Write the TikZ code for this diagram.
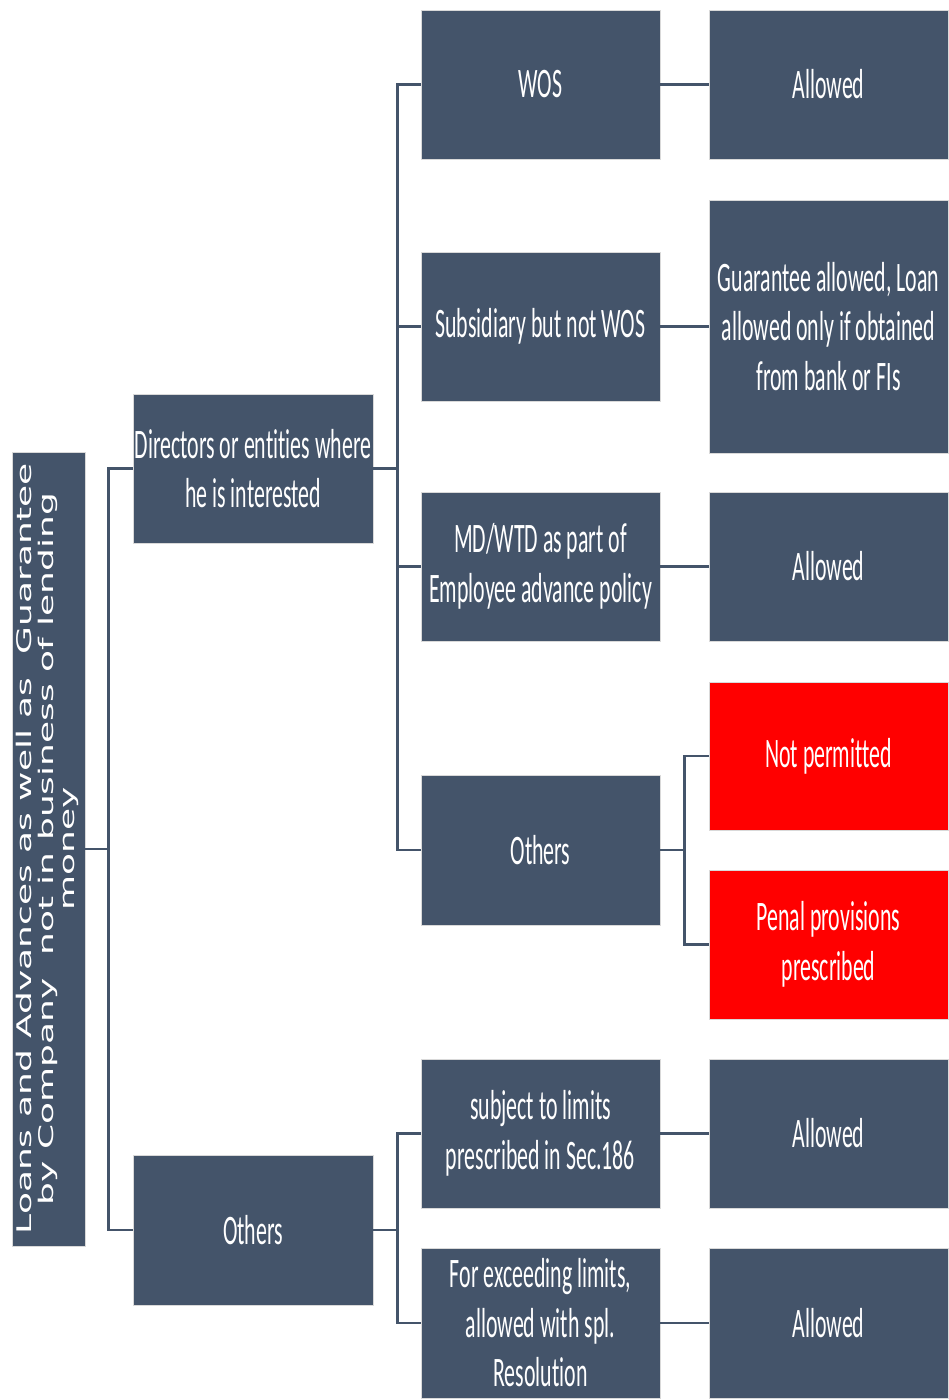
\documentclass[tikz,border=0pt]{standalone}
\usepackage{fontspec}
\usepackage{graphicx}
\newfontfamily\boxfont[FakeStretch=0.52,Ligatures=NoCommon]{Carlito}
\newfontfamily\rootfont{DejaVu Sans}
\definecolor{slate}{HTML}{44546A}
\definecolor{alert}{HTML}{FF0000}
\definecolor{rim}{HTML}{D9D9D9}
\begin{document}
\begin{tikzpicture}[x=1pt,y=-1pt,
  card/.style={rectangle,fill=slate,draw=rim,line width=0.8pt,text=white,
    inner sep=0pt,align=center,minimum width=239pt,
    font=\boxfont\fontsize{42}{49.5}\selectfont},
  redcard/.style={card,fill=alert},
  link/.style={draw=slate,line width=2.2pt}]
\useasboundingbox (0,0) rectangle (948,1400);
\fill[white] (0,0) rectangle (948,1400);

% root
\node[card,minimum width=73pt,minimum height=794pt] (root) at (48.5,849)
  {\rotatebox{90}{\scalebox{1}[0.56]{\rootfont\fontsize{36}{38.5}\selectfont
   \begin{tabular}{@{}c@{}}Loans and Advances as well as\ \ Guarantee\\
   by Company\ \ not in business of lending\\ money\end{tabular}}}};

% first level
\node[card,minimum width=240pt,minimum height=149pt] (dir) at (253,468.5)
  {Directors or entities where\\he is interested};
\node[card,minimum width=240pt,minimum height=150pt] (oth) at (253,1230)
  {Others};

% second level
\node[card,minimum height=149pt] (wos) at (540.5,84.5) {WOS};
\node[card,minimum height=149pt] (sub) at (540.5,326.5) {Subsidiary but not WOS};
\node[card,minimum height=149pt] (md)  at (540.5,566.5) {MD/WTD as part of\\Employee advance policy};
\node[card,minimum height=150pt] (oth2) at (540.5,850) {Others};
\node[card,minimum height=149pt] (lim) at (540.5,1133.5) {subject to limits\\prescribed in Sec.186};
\node[card,minimum height=150pt] (exc) at (540.5,1323) {For exceeding limits,\\allowed with spl.\\Resolution};

% third level
\node[card,minimum height=149pt] (r1) at (828.5,84.5) {Allowed};
\node[card,minimum height=253pt] (r2) at (828.5,326.5) {Guarantee allowed, Loan\\allowed only if obtained\\from bank or FIs};
\node[card,minimum height=149pt] (r3) at (828.5,566.5) {Allowed};
\node[redcard,minimum height=148pt] (r4) at (828.5,756) {Not permitted};
\node[redcard,minimum height=149pt] (r5) at (828.5,944.5) {Penal provisions\\prescribed};
\node[card,minimum height=149pt] (r6) at (828.5,1133.5) {Allowed};
\node[card,minimum height=150pt] (r7) at (828.5,1323) {Allowed};

% connectors
\path[link] (root.east) -- ++(23,0) coordinate (j0);
\path[link] (j0) |- (dir.west);
\path[link] (j0) |- (oth.west);

\path[link] (dir.east) -- ++(24,0) coordinate (j1);
\foreach \t in {wos,sub,md,oth2} \path[link] (j1) |- (\t.west);

\path[link] (oth.east) -- ++(24,0) coordinate (j2);
\foreach \t in {lim,exc} \path[link] (j2) |- (\t.west);

\path[link] (wos) -- (r1);
\path[link] (sub) -- (r2);
\path[link] (md) -- (r3);
\path[link] (lim) -- (r6);
\path[link] (exc) -- (r7);

\path[link] (oth2.east) -- ++(24,0) coordinate (j3);
\path[link] (j3) |- (r4.west);
\path[link] (j3) |- (r5.west);
\end{tikzpicture}
\end{document}
